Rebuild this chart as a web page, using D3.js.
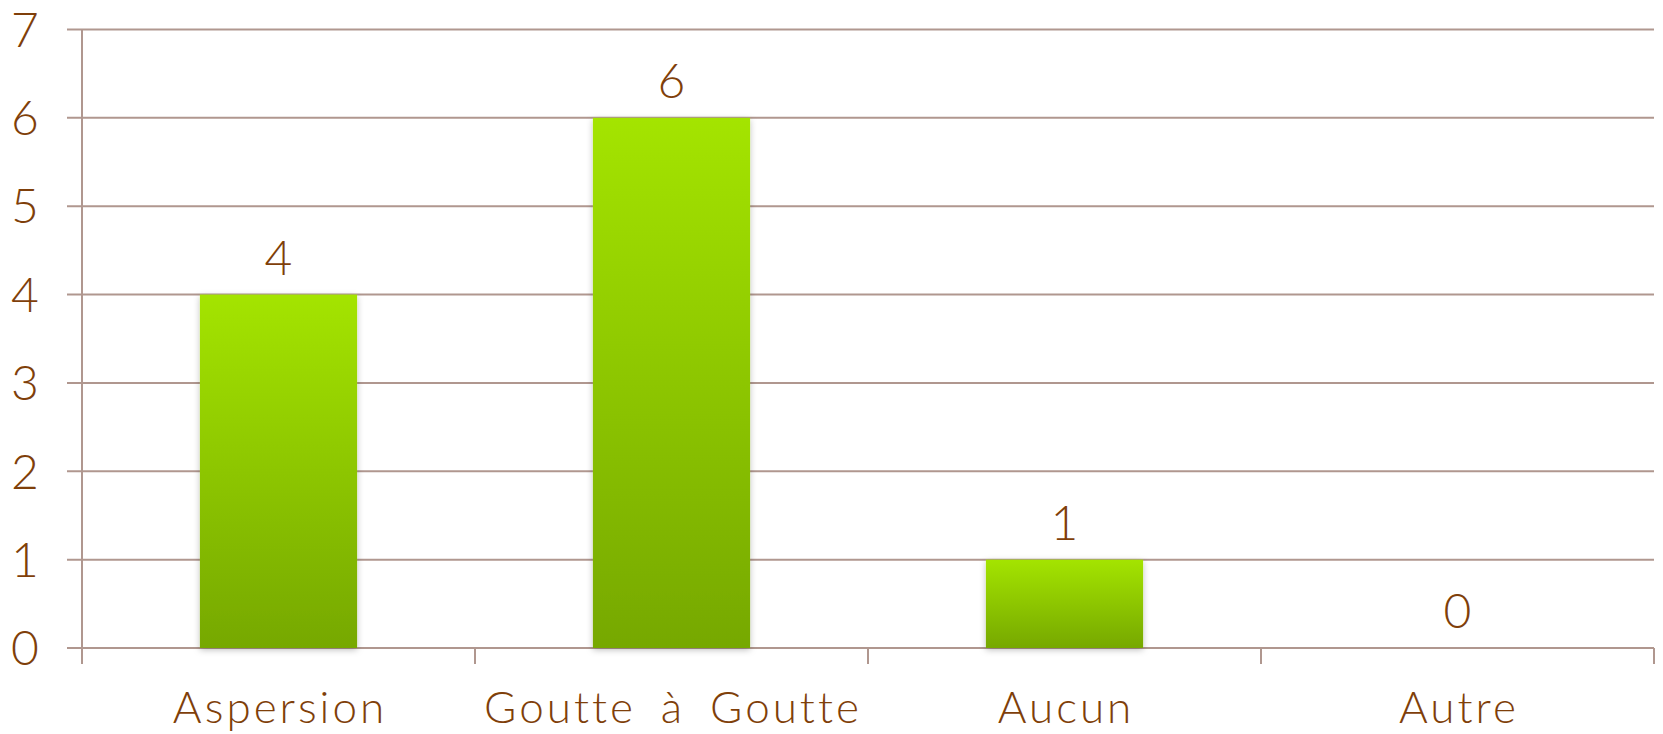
<!DOCTYPE html>
<html>
<head>
<meta charset="utf-8">
<script src="https://cdn.jsdelivr.net/npm/d3@7"></script>
<style>
  body { margin: 0; background: #fff; }
  svg { display: block; font-family: "Lato", "Open Sans", sans-serif; }
</style>
</head>
<body>
<svg width="1663" height="734"></svg>
<script>
let categories = ["Aspersion", "Goutte à Goutte", "Aucun", "Autre"];
let values = [4, 6, 1, 0];
let yTicks = [0, 1, 2, 3, 4, 5, 6, 7];

let svg = d3.select('svg');
let plotLeft = 82, plotRight = 1654, plotTop = 29.5, plotBottom = 648;
let textColor = '#7f3f0a';
let gridColor = '#b0978f';

let x = d3.scaleBand().domain(categories).range([plotLeft, plotRight]).padding(0);
let y = d3.scaleLinear().domain([0, 7]).range([plotBottom, plotTop]);

// bar gradient + shadow
let defs = svg.append('defs');
let grad = defs.append('linearGradient')
  .attr('id', 'barGrad')
  .attr('x1', 0).attr('y1', 0).attr('x2', 0).attr('y2', 1);
grad.append('stop').attr('offset', '0%').attr('stop-color', '#a4e400');
grad.append('stop').attr('offset', '100%').attr('stop-color', '#76a800');
defs.append('filter')
  .attr('id', 'shadow')
  .attr('x', '-20%').attr('y', '-20%').attr('width', '140%').attr('height', '140%')
  .append('feDropShadow')
  .attr('dx', 0).attr('dy', 2).attr('stdDeviation', 3)
  .attr('flood-color', '#000').attr('flood-opacity', 0.25);

// gridlines
svg.append('g')
  .selectAll('line')
  .data(yTicks)
  .join('line')
  .attr('x1', plotLeft - 15)
  .attr('x2', plotRight)
  .attr('y1', d => y(d))
  .attr('y2', d => y(d))
  .attr('stroke', gridColor)
  .attr('stroke-width', 2);

// y axis line
svg.append('line')
  .attr('x1', plotLeft).attr('x2', plotLeft)
  .attr('y1', plotTop).attr('y2', plotBottom + 16)
  .attr('stroke', gridColor).attr('stroke-width', 2);

// category ticks
let tickXs = categories.map(c => x(c)).concat([plotRight]);
svg.append('g')
  .selectAll('line')
  .data(tickXs.slice(1))
  .join('line')
  .attr('x1', d => d).attr('x2', d => d)
  .attr('y1', plotBottom).attr('y2', plotBottom + 16)
  .attr('stroke', gridColor).attr('stroke-width', 2);

// y labels
svg.append('g')
  .selectAll('text')
  .data(yTicks)
  .join('text')
  .attr('x', 25)
  .attr('y', d => y(d))
  .attr('dy', '0.36em')
  .attr('text-anchor', 'middle')
  .attr('fill', textColor)
  .attr('font-size', 48)
  .attr('font-weight', 300)
  .text(d => d);

// bars
let barW = x.bandwidth() * 0.4;
svg.append('g')
  .selectAll('rect')
  .data(values)
  .join('rect')
  .attr('x', (d, i) => x(categories[i]) + x.bandwidth() / 2 - barW / 2)
  .attr('y', d => y(d))
  .attr('width', barW)
  .attr('height', d => plotBottom - y(d))
  .attr('fill', 'url(#barGrad)')
  .attr('filter', 'url(#shadow)');

// value labels
svg.append('g')
  .selectAll('text')
  .data(values)
  .join('text')
  .attr('x', (d, i) => x(categories[i]) + x.bandwidth() / 2)
  .attr('y', d => y(d) - 20)
  .attr('text-anchor', 'middle')
  .attr('fill', textColor)
  .attr('font-size', 48)
  .attr('font-weight', 300)
  .text(d => d);

// category labels
svg.append('g')
  .selectAll('text')
  .data(categories)
  .join('text')
  .attr('x', d => x(d) + x.bandwidth() / 2 + 1.5)
  .attr('y', 723)
  .attr('text-anchor', 'middle')
  .attr('fill', textColor)
  .attr('font-size', 44)
  .attr('font-weight', 300)
  .attr('letter-spacing', 3)
  .attr('word-spacing', 10)
  .text(d => d);
</script>
</body>
</html>
